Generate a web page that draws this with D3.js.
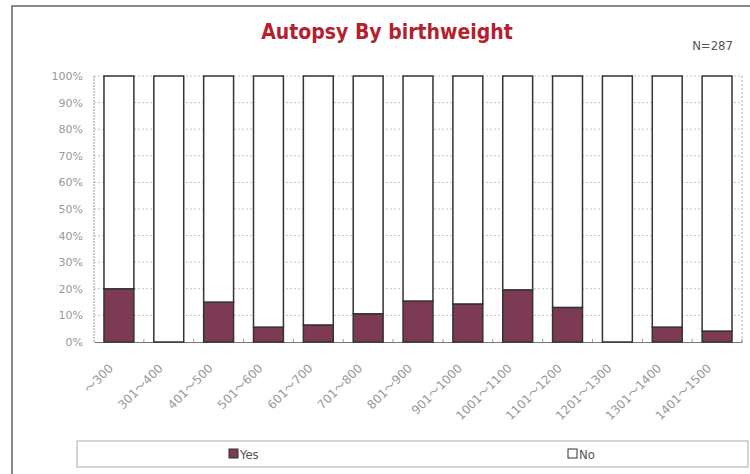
<!DOCTYPE html>
<html><head><meta charset="utf-8">
<script src="https://cdn.jsdelivr.net/npm/d3@7"></script>
<style>body{margin:0;background:#fff;}svg{display:block;}</style>
</head><body>
<svg id="c" width="750" height="474"></svg>
<script>
const categories = ["～300","301～400","401～500","501～600","601～700","701～800","801～900","901～1000","1001～1100","1101～1200","1201～1300","1301～1400","1401～1500"];
const yesPct = [20, 0, 15, 5.6, 6.4, 10.6, 15.4, 14.3, 19.6, 13, 0, 5.6, 4.1];
const noPct = yesPct.map(v => 100 - v);
const yTicks = [0,10,20,30,40,50,60,70,80,90,100];
const seriesNames = ["Yes","No"];
const colors = {Yes:"#7c3a54", No:"#ffffff"};

const svg = d3.select("#c");
// outer frame
svg.append("rect").attr("x",12).attr("y",6).attr("width",760).attr("height",480)
  .attr("fill","#fff").attr("stroke","#666").attr("stroke-width",1.5);

const m = {l:94, r:742, t:76, b:342};
const x = d3.scaleBand().domain(categories).range([m.l,m.r]).paddingInner(0.4).paddingOuter(0.2);
const y = d3.scaleLinear().domain([0,100]).range([m.b,m.t]);

// gridlines
svg.append("g").selectAll("line").data(yTicks.filter(t=>t>0)).join("line")
  .attr("x1",m.l).attr("x2",m.r).attr("y1",d=>y(d)).attr("y2",d=>y(d))
  .attr("stroke","#c4c4c4").attr("stroke-dasharray","2,2").attr("stroke-width",1);
// plot frame right/left dashed
svg.append("line").attr("x1",m.r).attr("x2",m.r).attr("y1",m.t).attr("y2",m.b)
  .attr("stroke","#aaa").attr("stroke-dasharray","2,2");
svg.append("line").attr("x1",m.l).attr("x2",m.l).attr("y1",m.t).attr("y2",m.b)
  .attr("stroke","#999").attr("stroke-dasharray","2,1");

// y axis
const yAxis = d3.axisLeft(y).tickValues(yTicks).tickFormat(d=>d+"%").tickSize(0).tickPadding(11);
const ya = svg.append("g").attr("transform",`translate(${m.l},0)`).call(yAxis);
ya.select(".domain").remove();
ya.selectAll("text").attr("fill","#999").attr("font-family","DejaVu Sans").attr("font-size",11);

// x axis
const xAxis = d3.axisBottom(x).tickSize(3).tickSizeOuter(0);
const xa = svg.append("g").attr("transform",`translate(0,${m.b})`).call(xAxis);
xa.select(".domain").attr("stroke","#777");
xa.selectAll(".tick line").attr("stroke","#999").attr("transform",`translate(${x.step()/2},-3)`);
xa.selectAll("text").attr("fill","#999").attr("font-family","DejaVu Sans, Noto Sans CJK JP").attr("font-size",12)
  .attr("text-anchor","end").attr("dy",0).attr("y",0)
  .attr("transform","translate(-5,27) rotate(-45)");

// stacked bars
const rows = categories.map((c,i)=>({cat:c, Yes:yesPct[i], No:noPct[i]}));
const stack = d3.stack().keys(seriesNames)(rows);
svg.append("g").selectAll("g").data(stack).join("g")
  .attr("fill",d=>colors[d.key])
  .selectAll("rect").data(d=>d).join("rect")
  .attr("x",d=>x(d.data.cat)).attr("width",x.bandwidth())
  .attr("y",d=>y(d[1])).attr("height",d=>y(d[0])-y(d[1]))
  .attr("stroke","#333").attr("stroke-width",1.5);

// title
svg.append("text").attr("x",387).attr("y",39).attr("text-anchor","middle")
  .attr("font-family","DejaVu Sans Condensed, DejaVu Sans").attr("font-weight","bold")
  .attr("font-size",21).attr("fill","#b51f2e").text("Autopsy By birthweight");
svg.append("text").attr("x",733).attr("y",50).attr("text-anchor","end")
  .attr("font-family","DejaVu Sans Condensed, DejaVu Sans").attr("font-size",13)
  .attr("fill","#555").text("N=287");

// legend
svg.append("rect").attr("x",77).attr("y",441).attr("width",671).attr("height",26)
  .attr("fill","#fff").attr("stroke","#aaa").attr("stroke-width",1);
const legX = {Yes:229, No:568};
const lg = svg.append("g").selectAll("g").data(seriesNames).join("g")
  .attr("transform",d=>`translate(${legX[d]},449)`);
lg.append("rect").attr("width",9).attr("height",9).attr("fill",d=>colors[d])
  .attr("stroke","#333").attr("stroke-width",1);
lg.append("text").attr("x",11).attr("y",10)
  .attr("font-family","DejaVu Sans Condensed, DejaVu Sans").attr("font-size",13)
  .attr("fill","#555").text(d=>d);
</script>
</body></html>
